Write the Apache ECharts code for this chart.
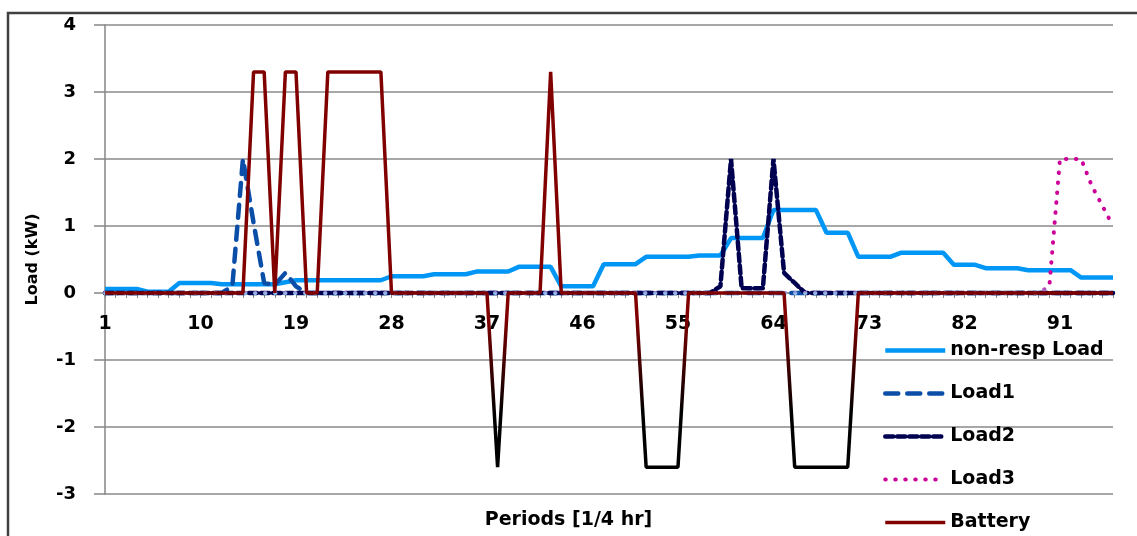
<!DOCTYPE html>
<html>
<head>
<meta charset="utf-8">
<title>Load per period</title>
<script src="https://cdn.jsdelivr.net/npm/echarts@6/dist/echarts.min.js"></script>
<style>
html, body { margin: 0; padding: 0; background: #fff; }
#chart { width: 1137px; height: 536px; }
</style>
</head>
<body>
<div id="chart"></div>
<script>
// periods 1..96 (quarter hours)
var periods = [];
for (var i = 1; i <= 96; i++) periods.push(String(i));

var nonResp = [
    0.06,0.06,0.06,0.06,0.02,0.02,0.02,0.15,0.15,0.15,0.15,0.13,
    0.13,0.13,0.13,0.13,0.13,0.16,0.19,0.19,0.19,0.19,0.19,0.19,
    0.19,0.19,0.19,0.25,0.25,0.25,0.25,0.28,0.28,0.28,0.28,0.32,
    0.32,0.32,0.32,0.39,0.39,0.39,0.39,0.10,0.10,0.10,0.10,0.43,
    0.43,0.43,0.43,0.54,0.54,0.54,0.54,0.54,0.56,0.56,0.56,0.82,
    0.82,0.82,0.82,1.24,1.24,1.24,1.24,1.24,0.90,0.90,0.90,0.54,
    0.54,0.54,0.54,0.60,0.60,0.60,0.60,0.60,0.42,0.42,0.42,0.37,
    0.37,0.37,0.37,0.34,0.34,0.34,0.34,0.34,0.23,0.23,0.23,0.23
];
var load1 = [
    0,0,0,0,0,0,0,0,0,0,0,0,
    0.1,2.0,1.05,0.15,0.12,0.3,0.1,0,0,0,0,0,
    0,0,0,0,0,0,0,0,0,0,0,0,
    0,0,0,0,0,0,0,0,0,0,0,0,
    0,0,0,0,0,0,0,0,0,0,0,0,
    0,0,0,0,0,0,0,0,0,0,0,0,
    0,0,0,0,0,0,0,0,0,0,0,0,
    0,0,0,0,0,0,0,0,0,0,0,0
];
var load2 = [
    0,0,0,0,0,0,0,0,0,0,0,0,
    0,0,0,0,0,0,0,0,0,0,0,0,
    0,0,0,0,0,0,0,0,0,0,0,0,
    0,0,0,0,0,0,0,0,0,0,0,0,
    0,0,0,0,0,0,0,0,0,0,0.1,2.0,
    0.07,0.07,0.07,2.0,0.3,0.15,0,0,0,0,0,0,
    0,0,0,0,0,0,0,0,0,0,0,0,
    0,0,0,0,0,0,0,0,0,0,0,0
];
var load3 = [
    0,0,0,0,0,0,0,0,0,0,0,0,
    0,0,0,0,0,0,0,0,0,0,0,0,
    0,0,0,0,0,0,0,0,0,0,0,0,
    0,0,0,0,0,0,0,0,0,0,0,0,
    0,0,0,0,0,0,0,0,0,0,0,0,
    0,0,0,0,0,0,0,0,0,0,0,0,
    0,0,0,0,0,0,0,0,0,0,0,0,
    0,0,0,0,0,0.1,2,2,2,1.6,1.3,1.0
];
var battery = [
    0,0,0,0,0,0,0,0,0,0,0,0,
    0,0,3.3,3.3,0,3.3,3.3,0,0,3.3,3.3,3.3,
    3.3,3.3,3.3,0,0,0,0,0,0,0,0,0,
    0,-2.6,0,0,0,0,3.3,0,0,0,0,0,
    0,0,0,-2.6,-2.6,-2.6,-2.6,0,0,0,0,0,
    0,0,0,0,0,-2.6,-2.6,-2.6,-2.6,-2.6,-2.6,0,
    0,0,0,0,0,0,0,0,0,0,0,0,
    0,0,0,0,0,0,0,0,0,0,0,0
];

var font = 'DejaVu Sans';
var myChart = echarts.init(document.getElementById('chart'));

var option = {
    animation: false,
    backgroundColor: '#fff',
    textStyle: { fontFamily: font },
    grid: { left: 105, right: 24, top: 25, bottom: 42 },
    // outer frame + x title
    graphic: [
        {
            type: 'polyline',
            shape: { points: [[8, 600], [8, 13], [1140, 13]] },
            style: { stroke: '#404040', lineWidth: 2.5, fill: null }
        },
        {
            type: 'text',
            left: 'center',
            top: 511,
            style: { text: 'Periods [1/4 hr]', font: 'bold 19px "DejaVu Sans"', fill: '#000' },
            x: 14
        }
    ],
    legend: {
        orient: 'vertical',
        left: 878,
        top: 336,
        height: 300,
        itemWidth: 60,
        itemHeight: 14,
        itemGap: 24,
        itemStyle: { opacity: 0 },
        textStyle: { fontFamily: font, fontWeight: 'bold', fontSize: 19, color: '#000' },
        data: [
            { name: 'non-resp Load', lineStyle: { width: 4.5 } },
            { name: 'Load1', lineStyle: { width: 4.5 } },
            { name: 'Load2', lineStyle: { width: 4.5 } },
            { name: 'Load3', lineStyle: { color: '#CC0099', width: 4 } },
            { name: 'Battery', lineStyle: { color: '#800000', width: 3.5 } }
        ]
    },
    xAxis: {
        type: 'category',
        data: periods,
        boundaryGap: false,
        position: 'bottom',
        offset: -201, // axis sits on the zero line
        axisLine: { onZero: false, lineStyle: { color: '#868686', width: 1.5 } },
        axisTick: { show: true, interval: 0, length: 5, lineStyle: { color: '#868686' } },
        axisLabel: {
            interval: 8, margin: 22,
            fontFamily: font, fontWeight: 'bold', fontSize: 19, color: '#000'
        },
        splitLine: { show: false }
    },
    yAxis: {
        type: 'value',
        min: -3,
        max: 4,
        interval: 1,
        name: 'Load (kW)',
        nameLocation: 'middle',
        nameGap: 64,
        nameTextStyle: { fontFamily: font, fontWeight: 'bold', fontSize: 16, color: '#000' },
        axisLine: { show: true, onZero: false, lineStyle: { color: '#868686', width: 1.5 } },
        axisTick: { show: true, length: 11, lineStyle: { color: '#868686', width: 1.5 } },
        axisLabel: { margin: 29, fontFamily: font, fontWeight: 'bold', fontSize: 18, color: '#000' },
        splitLine: { lineStyle: { color: '#8a8a8a', width: 1.5 } }
    },
    series: [
        {
            name: 'non-resp Load',
            type: 'line',
            data: nonResp,
            symbol: 'none',
            color: '#0096F5',
            lineStyle: { color: '#0096F5', width: 4.5 }
        },
        {
            name: 'Load1',
            type: 'line',
            data: load1,
            symbol: 'none',
            color: '#0A4EA8',
            lineStyle: { color: '#0A4EA8', width: 4.5, type: [13, 9], cap: 'round' }
        },
        {
            name: 'Load2',
            type: 'line',
            data: load2,
            symbol: 'none',
            color: '#000050',
            lineStyle: { color: '#000050', width: 4.5, type: [8, 4], cap: 'round' }
        },
        {
            name: 'Load3',
            type: 'line',
            data: load3,
            symbol: 'none',
            color: '#CC0099',
            lineStyle: {
                width: 4, type: [0.5, 9.5], cap: 'round',
                color: new echarts.graphic.LinearGradient(0, 0, 0, 1, [
                    { offset: 0, color: '#CC0099' },
                    { offset: 0.93, color: '#CC0099' },
                    { offset: 0.99, color: '#8EC8F0' },
                    { offset: 1, color: '#8EC8F0' }
                ])
            }
        },
        {
            name: 'Battery',
            type: 'line',
            data: battery,
            symbol: 'none',
            color: '#800000',
            lineStyle: {
                width: 3.5,
                color: new echarts.graphic.LinearGradient(0, 0, 0, 1, [
                    { offset: 0, color: '#800000' },
                    { offset: 0.62, color: '#800000' },
                    { offset: 0.86, color: '#000000' },
                    { offset: 1, color: '#000000' }
                ])
            }
        }
    ]
};

myChart.setOption(option);
</script>
</body>
</html>
